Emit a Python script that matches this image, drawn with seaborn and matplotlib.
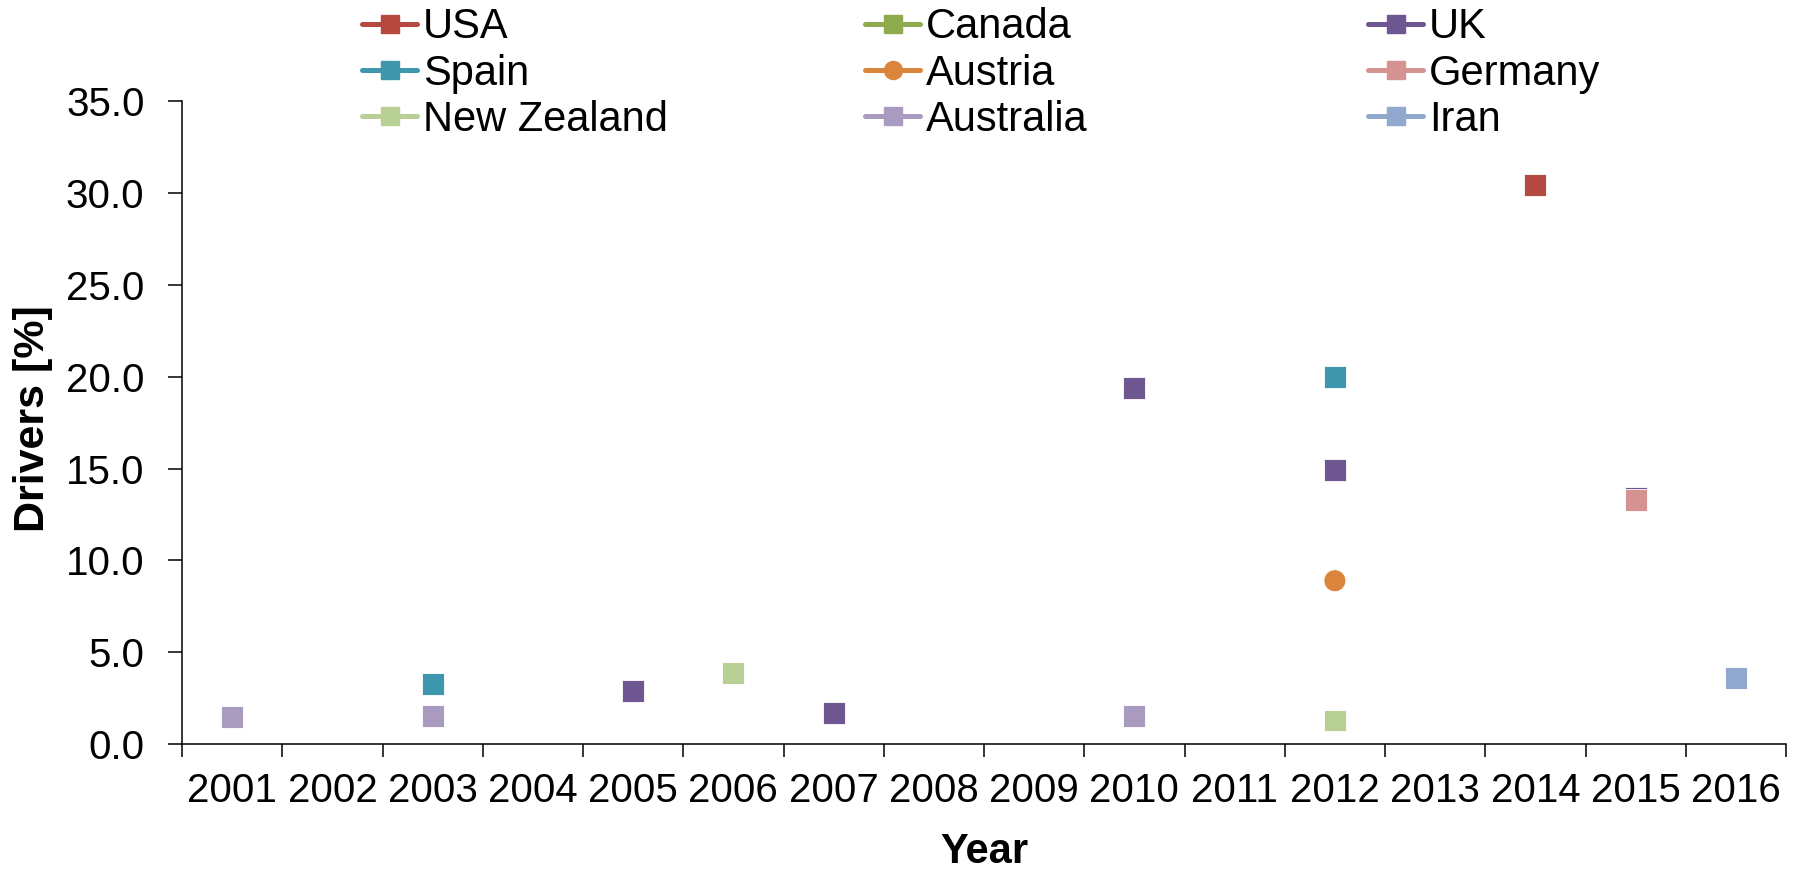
import numpy as np
import pandas as pd
import matplotlib
matplotlib.use("Agg")
import matplotlib.pyplot as plt
from matplotlib.lines import Line2D
from matplotlib.ticker import FixedLocator, FormatStrFormatter, NullFormatter
import seaborn as sns

# ---------------- data ----------------
years = [2001, 2002, 2003, 2004, 2005, 2006, 2007, 2008,
         2009, 2010, 2011, 2012, 2013, 2014, 2015, 2016]

countries = ["USA", "Canada", "UK", "Spain", "Austria",
             "Germany", "New Zealand", "Australia", "Iran"]

usa_years = [2014]
usa_vals = [30.4]
canada_years = []
canada_vals = []
uk_years = [2005, 2007, 2010, 2012, 2015]
uk_vals = [2.9, 1.7, 19.4, 14.9, 13.4]
spain_years = [2003, 2012]
spain_vals = [3.3, 20.0]
austria_years = [2012]
austria_vals = [8.9]
germany_years = [2015]
germany_vals = [13.3]
nz_years = [2006, 2012]
nz_vals = [3.9, 1.3]
australia_years = [2001, 2003, 2010]
australia_vals = [1.5, 1.55, 1.55]
iran_years = [2016]
iran_vals = [3.6]

colors = {
    "USA": "#B5483F",
    "Canada": "#8EAC4E",
    "UK": "#6E5690",
    "Spain": "#3F97AE",
    "Austria": "#DB843C",
    "Germany": "#D49391",
    "New Zealand": "#B8CF96",
    "Australia": "#A99ABF",
    "Iran": "#92A9CF",
}
markers = {c: "s" for c in countries}
markers["Austria"] = "o"

series = {
    "USA": (usa_years, usa_vals),
    "Canada": (canada_years, canada_vals),
    "UK": (uk_years, uk_vals),
    "Spain": (spain_years, spain_vals),
    "Austria": (austria_years, austria_vals),
    "Germany": (germany_years, germany_vals),
    "New Zealand": (nz_years, nz_vals),
    "Australia": (australia_years, australia_vals),
    "Iran": (iran_years, iran_vals),
}

rows = []
for c in countries:
    ys, vs = series[c]
    for y, v in zip(ys, vs):
        rows.append({"Country": c, "Year": y, "pos": years.index(y), "Drivers": v})
df = pd.DataFrame(rows)

# ---------------- style ----------------
sns.set_style("white")
plt.rcParams["font.family"] = ["Liberation Sans", "DejaVu Sans"]
plt.rcParams["text.color"] = "black"
plt.rcParams["xtick.color"] = "black"
plt.rcParams["ytick.color"] = "black"
plt.rcParams["axes.labelcolor"] = "black"

W, H = 1804, 869
fig = plt.figure(figsize=(W / 100, H / 100), dpi=100)
left, right = 182, 1786
top, bottom = 100.7, 744.4
ax = fig.add_axes([left / W, 1 - bottom / H, (right - left) / W, (bottom - top) / H])

sns.scatterplot(data=df, x="pos", y="Drivers", hue="Country", style="Country",
                hue_order=countries, style_order=countries,
                palette=colors, markers=markers, s=250, linewidth=0.6,
                edgecolor="white", legend=False, ax=ax, zorder=3)

ax.set_xlim(-0.5, len(years) - 0.5)
ax.set_ylim(0, 35)
ax.set_yticks(np.arange(0, 35.1, 5))
ax.yaxis.set_major_formatter(FormatStrFormatter("%.1f"))

ax.xaxis.set_major_locator(FixedLocator(np.arange(-0.5, len(years), 1.0)))
ax.xaxis.set_major_formatter(NullFormatter())
ax.xaxis.set_minor_locator(FixedLocator(np.arange(len(years))))
ax.set_xticklabels([str(y) for y in years], minor=True)

ax.tick_params(axis="x", which="major", direction="out", length=9.5, width=1.1,
               color="black", bottom=True)
ax.tick_params(axis="x", which="minor", length=0, pad=20, labelsize=29, labelcolor="black")
ax.tick_params(axis="y", which="major", direction="out", length=10, width=1.1, color="black",
               pad=17, labelsize=29, left=True, labelcolor="black")

for s in ["top", "right"]:
    ax.spines[s].set_visible(False)
for s in ["left", "bottom"]:
    ax.spines[s].set_color("black")
    ax.spines[s].set_linewidth(1.1)

ax.set_xlabel("Year", fontsize=30, fontweight="bold", va="center", color="black")
ax.xaxis.set_label_coords(0.5, (bottom - 852) / (bottom - top))
ax.set_ylabel("Drivers [%]", fontsize=31, fontweight="bold", va="center", color="black")
ax.yaxis.set_label_coords((33 - left) / (right - left), (bottom - 419) / (bottom - top))

# ---------------- legend (three columns, Excel style) ----------------
columns = [["USA", "Spain", "New Zealand"],
           ["Canada", "Austria", "Australia"],
           ["UK", "Germany", "Iran"]]
col_x = [362, 865, 1368]
for cx, col in zip(col_x, columns):
    handles = [Line2D([0], [0], color=colors[c], lw=3.6, marker=markers[c],
                      markersize=13, markerfacecolor=colors[c],
                      markeredgecolor=colors[c]) for c in col]
    fig.legend(handles, col, loc="upper left", bbox_to_anchor=(cx / W, 1 - 7.5 / H),
               frameon=False, fontsize=30, handlelength=1.32, handletextpad=0.14,
               labelspacing=0.15, borderpad=0, borderaxespad=0)

fig.savefig("out.png", dpi=100)
